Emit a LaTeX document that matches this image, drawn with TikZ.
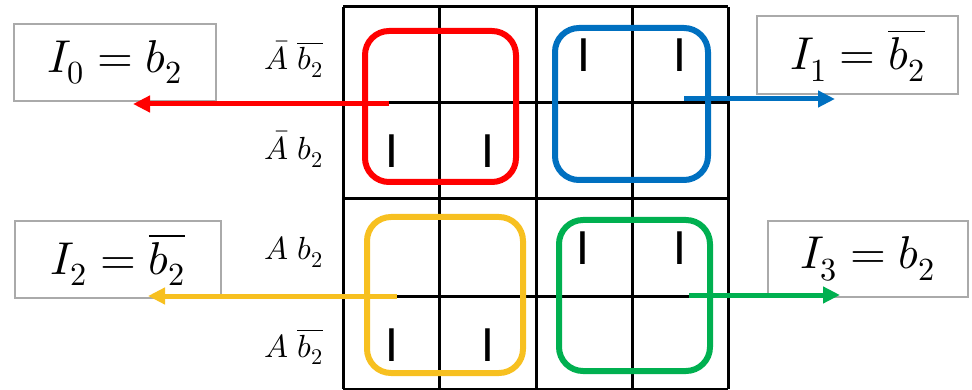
\documentclass[tikz,border=0pt]{standalone}
\usepackage{amsmath}
\usepackage{fontspec}
\usepackage{unicode-math}
\usepackage{tikz}
\usetikzlibrary{arrows.meta, calc}
\newfontfamily\barfont{Carlito}
\definecolor{loopred}{RGB}{255,0,0}
\definecolor{loopblue}{RGB}{0,112,192}
\definecolor{loopyellow}{RGB}{247,192,32}
\definecolor{loopgreen}{RGB}{0,176,80}
\definecolor{boxgray}{RGB}{170,170,170}

\begin{document}
\begin{tikzpicture}[
    x=1pt, y=-1pt,
    gridline/.style={black, line width=3pt},
    loopbox/.style={line width=6pt, rounded corners=24pt},
    outbox/.style={draw=boxgray, line width=1.8pt, inner sep=0pt,
        font=\fontsize{46}{52}\selectfont},
    rowlabel/.style={anchor=base east, inner sep=0pt, font=\fontsize{32}{36}\selectfont},
    one/.style={anchor=base, inner sep=0pt, font=\barfont\fontsize{51}{56}\selectfont},
    arr/.style={-{Triangle[length=17pt, width=16pt]}, line width=5pt},
]

\path[use as bounding box] (0,0) rectangle (972,390);

% ════════════════════════════════════════════════════════
% 1. K-MAP GRID
% ════════════════════════════════════════════════════════
\foreach \x in {343, 439, 536, 632, 728}
    \draw[gridline] (\x, 7) -- (\x, 389);
\foreach \y in {7, 103, 199, 296, 389}
    \draw[gridline] (343, \y) -- (728, \y);

% Row labels
\node[rowlabel] (rowAbb) at (323, 70)  {$\bar{A}\;\overline{b_2}$};
\node[rowlabel] (rowAb)  at (323, 160) {$\bar{A}\;b_2$};
\node[rowlabel] (rowab)  at (323, 260) {$A\;b_2$};
\node[rowlabel] (rowabb) at (323, 357) {$A\;\overline{b_2}$};

% Ones in the cells
\node[one] (oneR1) at (392, 168) {I};
\node[one] (oneR2) at (488, 168) {I};
\node[one] (oneB1) at (584, 72)  {I};
\node[one] (oneB2) at (680, 72)  {I};
\node[one] (oneG1) at (583, 265) {I};
\node[one] (oneG2) at (680, 265) {I};
\node[one] (oneY1) at (392, 361) {I};
\node[one] (oneY2) at (488, 361) {I};

% ════════════════════════════════════════════════════════
% 2. GROUPING LOOPS
% ════════════════════════════════════════════════════════
\draw[loopbox, loopred]    (365, 31)  rectangle (516, 182);
\draw[loopbox, loopblue]   (555, 28)  rectangle (708, 180);
\draw[loopbox, loopyellow] (367, 217) rectangle (523, 373);
\draw[loopbox, loopgreen]  (559, 220) rectangle (710, 371);

% ════════════════════════════════════════════════════════
% 3. RESULT BOXES AND ARROWS
% ════════════════════════════════════════════════════════
\node[outbox, minimum width=202pt, minimum height=77pt] (outI0) at (115, 62.5)
    {$I_0 = b_2$};
\node[outbox, minimum width=201pt, minimum height=78pt] (outI1) at (857.5, 55)
    {$I_1 = \overline{b_2}$};
\node[outbox, minimum width=206pt, minimum height=77pt] (outI2) at (118, 259.5)
    {$I_2 = \overline{b_2}$};
\node[outbox, minimum width=200pt, minimum height=76pt] (outI3) at (868, 259)
    {$I_3 = b_2$};

\coordinate (srcR) at (389, 104);
\coordinate (tipR) at (133, 104);
\coordinate (srcB) at (684, 99);
\coordinate (tipB) at (835, 99);
\coordinate (srcY) at (397, 296);
\coordinate (tipY) at (148, 296);
\coordinate (srcG) at (689, 295);
\coordinate (tipG) at (840, 295);

\draw[arr, loopred]    (srcR) -- (tipR);
\draw[arr, loopblue]   (srcB) -- (tipB);
\draw[arr, loopyellow] (srcY) -- (tipY);
\draw[arr, loopgreen]  (srcG) -- (tipG);

\end{tikzpicture}
\end{document}
